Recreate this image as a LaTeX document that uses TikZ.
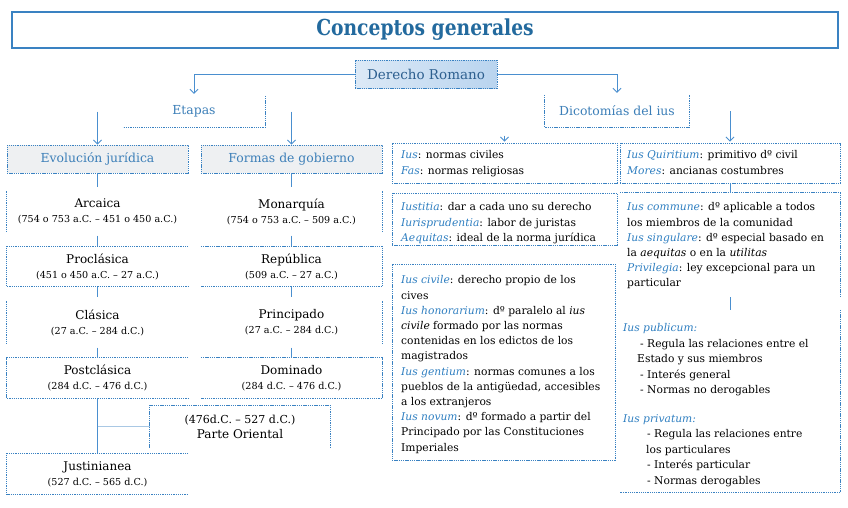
\documentclass[tikz,border=0pt]{standalone}
\usepackage{fontspec}
\setmainfont{DejaVu Serif}
\newfontfamily\titlefont[FakeStretch=0.85]{DejaVu Serif}
\usetikzlibrary{arrows.meta}
\definecolor{tblue}{HTML}{236A9E}
\definecolor{bblue}{HTML}{3A82C2}
\definecolor{cblue}{HTML}{4A8FCF}
\definecolor{lblue}{HTML}{A9C8E4}
\definecolor{iblue}{HTML}{2F7FC1}
\definecolor{hblue}{HTML}{3C7FB8}
\definecolor{dblue}{HTML}{2D5F8F}
\definecolor{gfill}{HTML}{EEF0F2}
\definecolor{drl}{HTML}{DCE9F6}
\definecolor{drr}{HTML}{B9D4EF}
\newcommand\iu[1]{{\color{iblue}\itshape #1}}
\newcommand\datef{\fontsize{9.6}{15}\selectfont}
\newcommand\odatef{\fontsize{11}{15}\selectfont}
\begin{document}
\begin{tikzpicture}[x=1pt,y=-1pt,
  dsh/.style={draw=bblue, line width=0.9pt, dash pattern=on 1.3pt off 0.9pt},
  conn/.style={draw=cblue, line width=1pt},
  arr/.style={conn,-{Straight Barb[length=4pt,width=8pt,line width=0.9pt]}},
  bx/.style 2 args={inner sep=0pt, minimum width=#1, minimum height=#2},
  per/.style={align=center, font=\fontsize{12}{15}\selectfont},
  body/.style={align=left, anchor=north west, inner sep=0pt, font=\fontsize{10.7}{15.2}\selectfont},
  head/.style={text=hblue, font=\fontsize{12.4}{14}\selectfont}
]
\fill[white] (0,0) rectangle (848,507);
\useasboundingbox (0,0) rectangle (848,507);

% title and root
\node[bx={826}{36}, draw=bblue, line width=1.2pt, text=tblue,
      font=\titlefont\bfseries\fontsize{22}{24}\selectfont] (title) at (425,30) {Conceptos generales};
\node[bx={142}{28}, dsh, left color=drl, right color=drr, text=dblue,
      font=\fontsize{13.5}{15}\selectfont] (dr) at (426,74) {Derecho Romano};

% second level
\node[bx={142}{31}, head] (etapas) at (194,111.5) {Etapas};
\draw[dsh] (etapas.north east) -- (etapas.south east) -- (etapas.south west);
\node[bx={144}{32}, head] (dic) at (617,111) {Dicotomías del ius};
\draw[dsh] (dic.north west) -- (dic.south west) -- (dic.south east) -- (dic.north east);

\draw[arr] (dr.west) -| ([yshift=2pt]etapas.north);
\draw[arr] (dr.east) -| ([yshift=2pt]dic.north);

% left columns
\node[bx={181}{28}, dsh, fill=gfill, head] (evo) at (97.5,159) {Evolución jurídica};
\node[bx={181}{28}, dsh, fill=gfill, head] (form) at (291.5,159) {Formas de gobierno};
\draw[arr] (evo.north |- etapas.center) -- (evo.north);
\draw[arr] (form.north |- etapas.center) -- (form.north);

\node[bx={181}{48}, per] (arc) at (97.5,211.5) {Arcaica\\{\datef (754 o 753 a.C. – 451 o 450 a.C.)}};
\draw[dsh, shorten <=4pt, shorten >=4pt] (arc.north west) -- (arc.south west);
\node[bx={181}{40}, per] (pro) at (97.5,266.5) {Proclásica\\{\datef (451 o 450 a.C. – 27 a.C.)}};
\draw[dsh] (pro.north east) -- (pro.north west) -- (pro.south west) -- (pro.south east);
\node[bx={181}{50}, per] (cla) at (97.5,322.5) {Clásica\\{\datef (27 a.C. – 284 d.C.)}};
\draw[dsh, shorten <=4pt, shorten >=4pt] (cla.north west) -- (cla.south west);
\node[bx={181}{40}, per] (pos) at (97.5,378) {Postclásica\\{\datef (284 d.C. – 476 d.C.)}};
\draw[dsh] (pos.north east) -- (pos.north west) -- (pos.south west) -- (pos.south east);
\node[bx={180}{42}, per] (ori) at (240,426.5) {{\odatef (476d.C. – 527 d.C.)}\\Parte Oriental};
\draw[dsh] (ori.south west) -- (ori.north west) -- (ori.north east) -- (ori.south east);
\node[bx={181}{41}, per] (jus) at (97.5,474) {Justinianea\\{\datef (527 d.C. – 565 d.C.)}};
\draw[dsh] (jus.north east) -- (jus.north west) -- (jus.south west) -- (jus.south east);

\draw[conn] (evo.south) -- (arc.north);
\draw[conn] (arc.south) -- (pro.north);
\draw[conn] (pro.south) -- (cla.north);
\draw[conn] (cla.south) -- (pos.north);
\draw[conn] (pos.south) -- (jus.north);
\draw[conn, draw=lblue] (pos.south |- ori.west) -- (ori.west);

\node[bx={181}{48}, per] (mon) at (291.5,211.5) {Monarquía\\{\datef (754 o 753 a.C. – 509 a.C.)}};
\draw[dsh, shorten <=4pt, shorten >=4pt] (mon.north east) -- (mon.south east);
\node[bx={181}{40}, per] (rep) at (291.5,266.5) {República\\{\datef (509 a.C. – 27 a.C.)}};
\draw[dsh] (rep.north west) -- (rep.north east) -- (rep.south east) -- (rep.south west);
\node[bx={181}{50}, per] (pri) at (291.5,322.5) {Principado\\{\datef (27 a.C. – 284 d.C.)}};
\draw[dsh, shorten <=4pt, shorten >=4pt] (pri.north east) -- (pri.south east);
\node[bx={181}{40}, per] (dom) at (291.5,378) {Dominado\\{\datef (284 d.C. – 476 d.C.)}};
\draw[dsh] (dom.north west) -- (dom.north east) -- (dom.south east) -- (dom.south west);

\draw[conn] (form.south) -- (mon.north);
\draw[conn] (mon.south) -- (rep.north);
\draw[conn] (rep.south) -- (pri.north);
\draw[conn] (pri.south) -- (dom.north);

% middle column
\node[bx={225}{40}, dsh] (ius1) at (504.5,163) {};
\node[body] (ius1t) at (401,150.5) {\iu{Ius}: normas civiles\\\iu{Fas}: normas religiosas};
\node[bx={225}{52}, dsh] (iust) at (504.5,219) {};
\node[body] (iustt) at (401,202.5) {\iu{Iustitia}: dar a cada uno su derecho\\
\iu{Iurisprudentia}: labor de juristas\\
\iu{Aequitas}: ideal de la norma jurídica};
\node[bx={223}{196}, dsh] (civ) at (503.5,362) {};
\node[body] (civt) at (401,275.5) {\iu{Ius civile}: derecho propio de los\\
cives\\
\iu{Ius honorarium}: dº paralelo al \textit{ius}\\
\textit{civile} formado por las normas\\
contenidas en los edictos de los\\
magistrados\\
\iu{Ius gentium}: normas comunes a los\\
pueblos de la antigüedad, accesibles\\
a los extranjeros\\
\iu{Ius novum}: dº formado a partir del\\
Principado por las Constituciones\\
Imperiales};
\draw[arr] ([yshift=7pt]ius1.north) -- ([yshift=1pt]ius1.north);

% right column
\node[bx={220}{40}, dsh] (qui) at (730,163) {};
\node[body] (quit) at (627,150.5) {\iu{Ius Quiritium}: primitivo dº civil\\\iu{Mores}: ancianas costumbres};
\node[bx={220}{104}] (com) at (730,245) {};
\draw[dsh] (com.north west) -- (com.north east) -- (com.south east);
\node[body] (comt) at (627,202.5) {\iu{Ius commune}: dº aplicable a todos\\
los miembros de la comunidad\\
\iu{Ius singulare}: dº especial basado en\\
la \textit{aequitas} o en la \textit{utilitas}\\
\iu{Privilegia}: ley excepcional para un\\
particular};
\node[bx={220}{182}] (pub) at (730,401) {};
\draw[dsh] (pub.north east) -- (pub.south east) -- (pub.south west);
\node[body, font=\fontsize{10.7}{15.5}\selectfont] (pubt) at (623,323.5) {\iu{Ius publicum:}\\
\hspace*{17pt}- Regula las relaciones entre el\\
\hspace*{14pt}Estado y sus miembros\\
\hspace*{17pt}- Interés general\\
\hspace*{17pt}- Normas no derogables\\[13pt]
\iu{Ius privatum:}\\
\hspace*{24pt}- Regula las relaciones entre\\
\hspace*{23pt}los particulares\\
\hspace*{24pt}- Interés particular\\
\hspace*{24pt}- Normas derogables};

\draw[arr] (qui.north |- dic.center) -- ([yshift=1pt]qui.north);
\draw[conn] (qui.south) -- (com.north);
\draw[conn] (com.south) -- (pub.north);
\end{tikzpicture}
\end{document}
